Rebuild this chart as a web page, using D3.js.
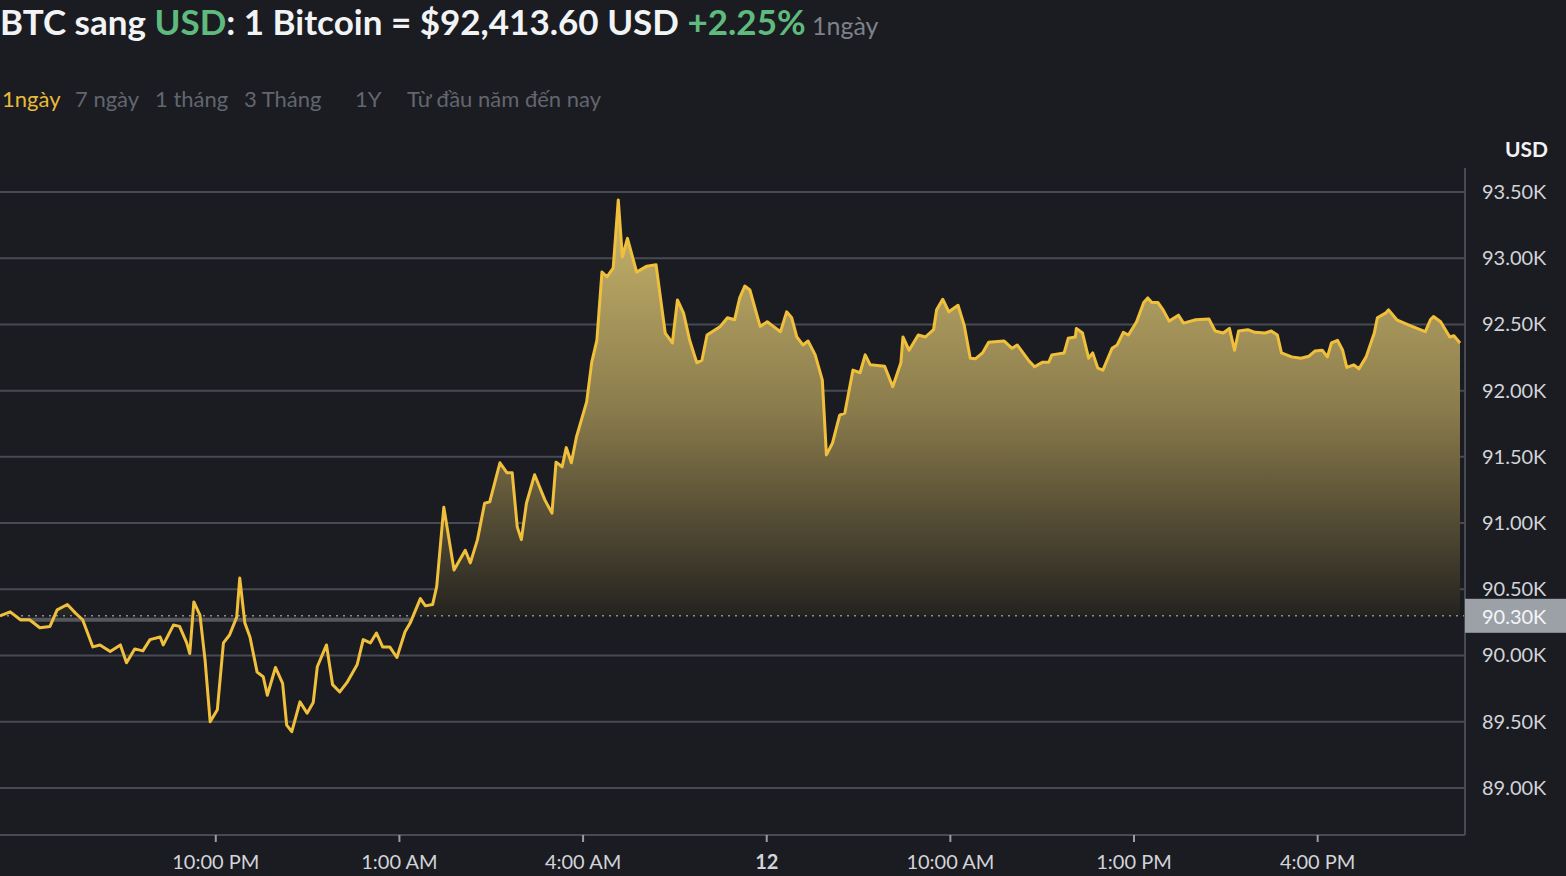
<!DOCTYPE html>
<html><head><meta charset="utf-8">
<script src="https://cdn.jsdelivr.net/npm/d3@7/dist/d3.min.js"></script>
<style>html,body{margin:0;background:#1b1c21;overflow:hidden}svg{display:block}</style>
</head><body><svg id="c" width="1566" height="876"></svg>
<script>
// minutes after 18:29 (day 11)
const minutes=[0,10,20,29,39,49,56,66,74,81,91,98,108,118,124,132,140,147,157,160,170,176,183,186,190,196,201,206,213,219,225,232,235,240,245,252,258,262,270,277,281,286,294,301,307,311,320,326,333,340,350,356,363,369,375,382,389,397,402,412,417,424,428,435,445,456,461,468,475,480,490,497,502,507,511,516,524,534,541,545,551,555,560,565,575,580,585,590,595,601,606,610,615,624,634,643,652,659,664,670,676,683,688,693,701,706,713,720,725,730,735,745,752,758,765,771,776,781,787,792,799,806,810,816,823,828,836,843,848,853,867,875,883,885,891,900,907,915,918,924,930,939,945,951,956,963,969,984,992,997,1008,1014,1022,1028,1031,1043,1047,1054,1055,1061,1067,1071,1076,1081,1090,1095,1101,1106,1114,1121,1125,1129,1135,1140,1146,1155,1160,1172,1185,1191,1199,1205,1210,1214,1223,1230,1240,1246,1252,1256,1266,1275,1283,1289,1296,1301,1305,1311,1316,1320,1327,1332,1339,1347,1350,1358,1361,1369,1381,1392,1397,1402,1405,1412,1421,1425,1431];
const prices=[90299,90330,90270,90270,90210,90220,90345,90385,90320,90270,90065,90080,90030,90080,89945,90050,90035,90120,90140,90080,90230,90220,90095,90015,90405,90305,89965,89500,89590,90095,90155,90290,90585,90245,90140,89875,89840,89700,89910,89790,89475,89425,89650,89565,89645,89915,90080,89780,89725,89795,89930,90120,90095,90170,90065,90065,89985,90180,90245,90430,90375,90385,90520,91120,90645,90795,90700,90875,91150,91160,91455,91380,91380,90970,90875,91150,91365,91175,91075,91460,91425,91570,91455,91650,91915,92215,92380,92895,92860,92925,93440,93010,93150,92895,92940,92950,92435,92360,92685,92585,92380,92210,92230,92420,92460,92485,92550,92535,92700,92790,92760,92485,92520,92485,92445,92595,92550,92405,92345,92375,92270,92080,91515,91605,91815,91830,92155,92135,92270,92195,92185,92030,92210,92405,92305,92420,92405,92460,92610,92690,92595,92645,92495,92245,92240,92285,92365,92375,92320,92345,92230,92180,92215,92215,92270,92285,92395,92405,92470,92435,92245,92285,92170,92155,92320,92345,92440,92420,92520,92665,92700,92665,92665,92610,92525,92570,92510,92535,92540,92450,92435,92470,92305,92450,92460,92440,92435,92450,92420,92285,92255,92245,92260,92300,92305,92255,92360,92380,92305,92175,92195,92165,92255,92435,92550,92585,92610,92535,92495,92460,92445,92535,92560,92520,92405,92415,92360];
const yTicks=[89000,89500,90000,90500,91000,91500,92000,92500,93000,93500];
const xTickHours=[22,25,28,31,34,37,40];
const xTickLabels=["10:00 PM","1:00 AM","4:00 AM","12","10:00 AM","1:00 PM","4:00 PM"];
const refPrice=90300;
const tabs=["1ngày","7 ngày","1 tháng","3 Tháng","1Y","Từ đầu năm đến nay"];

const start=new Date(2024,10,11,18,29);
const data=minutes.map((m,i)=>({t:new Date(+start+m*60000),v:prices[i]}));
const svg=d3.select("#c");
const F="Lato, 'Open Sans', sans-serif";
const x=d3.scaleTime().domain([start,new Date(+start+1431*60000)]).range([0,1460]);
const y=d3.scaleLinear().domain([88645,93681]).range([835,168]);

// title
const t=svg.append("text").attr("x",0).attr("y",35).attr("font-family",F).attr("font-weight",700).attr("font-size",35).attr("fill","#f2f3f5");
t.append("tspan").text("BTC sang ");
t.append("tspan").attr("fill","#5fba7d").text("USD");
t.append("tspan").text(": 1 Bitcoin = $92,413.60 USD ");
t.append("tspan").attr("fill","#5fba7d").text("+2.25%");
t.append("tspan").attr("fill","#7d818b").attr("font-size",25).attr("font-weight",400).text(" 1ngày");
const tabX=[2,75,155,244,355,407];
tabs.forEach((s,i)=>svg.append("text").attr("x",tabX[i]).attr("y",107).attr("font-family",F).attr("font-size",22)
 .attr("fill",i===0?"#e9b93c":"#62666f").text(s));

// grid
svg.append("g").selectAll("line").data(yTicks).join("line").attr("x1",0).attr("x2",1465)
 .attr("y1",d=>y(d)).attr("y2",d=>y(d)).attr("stroke","#474a52").attr("stroke-width",2);

// gradient area
const defs=svg.append("defs");
const g=defs.append("linearGradient").attr("id","gr").attr("gradientUnits","userSpaceOnUse").attr("x1",0).attr("x2",0).attr("y1",y(93400)).attr("y2",y(refPrice));
g.append("stop").attr("offset",0).attr("stop-color","#c9b56c");
g.append("stop").attr("offset",0.5).attr("stop-color","#8a7b4c");
g.append("stop").attr("offset",1).attr("stop-color","#24231f");
defs.append("clipPath").attr("id","cp").append("rect").attr("x",0).attr("y",0).attr("width",1466).attr("height",y(refPrice));
svg.append("path").datum(data).attr("clip-path","url(#cp)")
 .attr("d",d3.area().x(d=>x(d.t)).y0(y(refPrice)).y1(d=>y(d.v))).attr("fill","url(#gr)");

// ref band & dotted line
svg.append("line").attr("x1",20).attr("x2",410).attr("y1",y(refPrice)+4).attr("y2",y(refPrice)+4).attr("stroke","#55575d").attr("stroke-width",4);
svg.append("line").attr("x1",0).attr("x2",1465).attr("y1",y(refPrice)).attr("y2",y(refPrice)).attr("stroke","#8a8d94").attr("stroke-width",1.5).attr("stroke-dasharray","2,5");

// line
svg.append("path").datum(data).attr("d",d3.line().x(d=>x(d.t)).y(d=>y(d.v))).attr("fill","none").attr("stroke","#f0c03c").attr("stroke-width",3).attr("stroke-linejoin","round");

// right axis
svg.append("line").attr("x1",1465).attr("x2",1465).attr("y1",168).attr("y2",835).attr("stroke","#474a52").attr("stroke-width",2);
const ya=svg.append("g").attr("transform","translate(1465,0)").call(d3.axisRight(y).tickValues(yTicks).tickSize(0).tickPadding(17).tickFormat(d=>(d/1000).toFixed(2)+"K"));
ya.select(".domain").remove();
ya.selectAll("text").attr("font-family",F).attr("font-size",20).attr("fill","#d2d4da");
svg.append("text").attr("x",1548).attr("y",157).attr("text-anchor","end").attr("font-family",F).attr("font-weight",700).attr("font-size",21).attr("fill","#f2f3f5").text("USD");
svg.append("rect").attr("x",1465).attr("y",y(refPrice)-17).attr("width",101).attr("height",34).attr("fill","#9ca1a8");
svg.append("text").attr("x",1482).attr("y",y(refPrice)+8).attr("font-family",F).attr("font-size",20).attr("fill","#f5f6f8").text((refPrice/1000).toFixed(2)+"K");

// bottom axis
const xt=xTickHours.map(h=>new Date(2024,10,11,h,0));
const xa=svg.append("g").attr("transform","translate(0,835)").call(d3.axisBottom(x).tickValues(xt).tickSize(7).tickPadding(13).tickFormat((d,i)=>xTickLabels[i]));
xa.select(".domain").attr("d","M0,0H1465").attr("stroke","#474a52").attr("stroke-width",2);
xa.selectAll("line").attr("stroke","#9a9da4").attr("stroke-width",2);
xa.selectAll("text").attr("font-family",F).attr("font-size",20).attr("fill","#d2d4da").attr("font-weight",(d,i)=>i===3?700:400);
</script></body></html>
